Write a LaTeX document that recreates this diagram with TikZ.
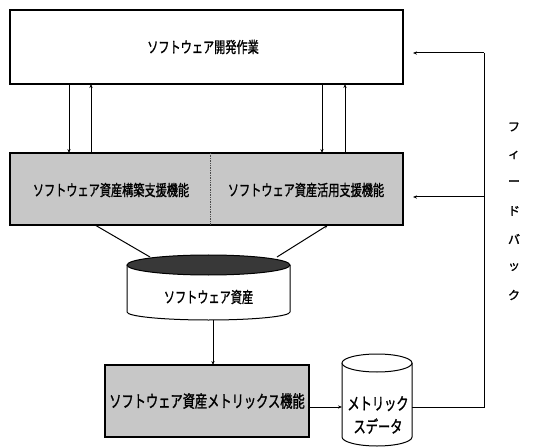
\documentclass[tikz,border=0pt]{standalone}
\usepackage{fontspec}
\usetikzlibrary{arrows.meta}
\newfontfamily\jp[FakeStretch=0.72,FakeBold=1.2]{Noto Sans CJK JP}
\newfontfamily\jpn[FakeBold=1.5]{Noto Sans CJK JP}
\begin{document}
\begin{tikzpicture}[x=1pt,y=1pt,
  box/.style={draw, line width=1.1pt, inner sep=0pt},
  shaded/.style={fill=black!22},
  conn/.style={line width=0.7pt},
  arr/.style={conn, -{Stealth[length=4pt,width=3.2pt]}},
  lbl/.style={font=\jp\fontsize{15.5}{17}\selectfont, inner sep=0pt}]
\useasboundingbox (0,0) rectangle (534,447);
% boxes
\node[box, minimum width=393pt, minimum height=74pt] (dev) at (206.5,400) {};
\node[lbl] (devt) at (203,400) {ソフトウェア開発作業};
\node[box, shaded, minimum width=393pt, minimum height=72pt] (sup) at (206.5,258) {};
\draw[conn, densely dotted, black!70] (210,294) -- (210,222);
\node[lbl] (supa) at (111,257) {ソフトウェア資産構築支援機能};
\node[lbl] (supb) at (306,257) {ソフトウェア資産活用支援機能};
\node[box, shaded, minimum width=204pt, minimum height=72pt] (met) at (207,46) {};
\node[lbl, font=\jp\fontsize{17}{19}\selectfont] (mett) at (207,46) {ソフトウェア資産メトリックス機能};
% asset cylinder
\draw[line width=1pt, fill=white] (127,182) -- (127,135) arc[start angle=180, end angle=360, x radius=81.5pt, y radius=8pt] -- (290,182);
\draw[line width=1pt, fill=black!78] (208.5,182) ellipse[x radius=81.5pt, y radius=10pt];
\node[lbl] (asset) at (208.5,150) {ソフトウェア資産};
\coordinate (assetbot) at (213,127);
\coordinate (assetl) at (150,190);
\coordinate (assetr) at (277,190);
% metric cylinder
\draw[line width=1pt, fill=white] (342,84) -- (342,10) arc[start angle=180, end angle=360, x radius=35pt, y radius=9pt] -- (412,84);
\draw[line width=1pt, fill=white] (377,84) ellipse[x radius=35pt, y radius=9pt];
\node[font=\jp\fontsize{17}{19}\selectfont, align=center, inner sep=0pt] (mdata) at (378,32) {メトリック\\[4pt]スデータ};
\coordinate (mleft) at (342,40);
\coordinate (mright) at (412,40);
% vertical arrows between dev and sup
\coordinate (d1) at (69,363); \coordinate (s1) at (69,294);
\coordinate (d2) at (91,363); \coordinate (s2) at (91,294);
\coordinate (d3) at (322,363); \coordinate (s3) at (322,294);
\coordinate (d4) at (345,363); \coordinate (s4) at (345,294);
\draw[arr] (d1) -- (s1);
\draw[arr] (s2) -- (d2);
\draw[arr] (d3) -- (s3);
\draw[arr] (s4) -- (d4);
% sup <-> asset
\coordinate (sl) at (95,222);
\coordinate (sr) at (328,222);
\draw[line width=1pt] (sl) -- (assetl);
\draw[arr, line width=1pt] (assetr) -- (sr);
% asset -> metric function
\coordinate (mtop) at (213,82);
\draw[arr] (assetbot) -- (mtop);
\coordinate (mfr) at (309,40);
\draw[arr] (mfr) -- (mleft);
% feedback
\coordinate (fb) at (484,40);
\coordinate (fbt) at (484,394);
\coordinate (fbm) at (484,250);
\coordinate (devr) at (413,394);
\coordinate (supr) at (413,250);
\draw[line width=1pt] (mright) -- (fb) -- (fbt);
\draw[arr, line width=1pt] (fbt) -- (devr);
\draw[arr, line width=1pt] (fbm) -- (supr);
\foreach \c/\yy [count=\i] in {フ/320,ィ/292,ー/264,ド/236,バ/208,ッ/180,ク/152}
  \node[font=\jpn\fontsize{12}{12}\selectfont, inner sep=0pt] (fbk\i) at (514,\yy) {\c};
\end{tikzpicture}
\end{document}
